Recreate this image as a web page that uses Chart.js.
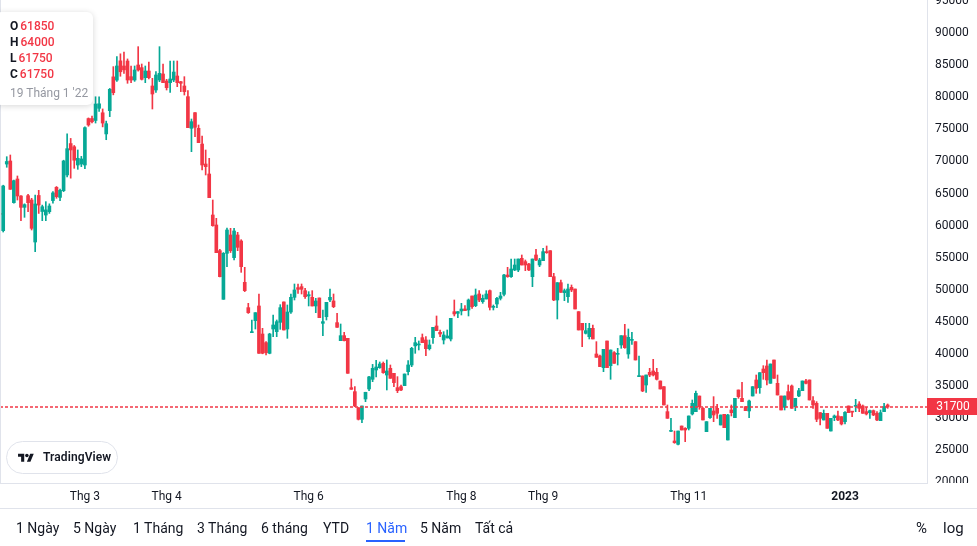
<!DOCTYPE html>
<html><head><meta charset="utf-8">
<script src="https://cdn.jsdelivr.net/npm/chart.js@4"></script>
<style>
html,body{margin:0;padding:0;background:#fff;}
body{width:977px;height:546px;position:relative;overflow:hidden;font-family:Roboto,"Trebuchet MS",sans-serif;color:#131722;}
#wrap{position:absolute;left:0;top:0;width:977px;height:509px;}
#legend{position:absolute;left:-4px;top:12px;width:97px;height:93px;background:#fff;border-radius:6px;box-shadow:0 1px 6px rgba(0,0,0,0.16);font-size:12px;}
#legend .row{position:absolute;left:14px;height:16px;line-height:16px;white-space:nowrap;}
#legend b{font-weight:700;color:#131722;margin-right:2px;}
#legend .v{color:#f23645;font-weight:500;}
#legend .d{color:#9598a1;font-weight:400;}
#logo{position:absolute;left:6px;top:441px;width:110px;height:31px;border:1px solid #e0e3eb;border-radius:17px;background:#fff;}
#logo svg{position:absolute;left:11px;top:10px;}
#logo span{position:absolute;left:36px;top:0;line-height:31px;font-size:12px;font-weight:600;color:#131722;letter-spacing:0.1px;}
#sep{position:absolute;left:0;top:508px;width:977px;height:1px;background:#e0e3eb;}
.btn{position:absolute;top:518px;line-height:20px;font-size:14px;color:#131722;white-space:nowrap;}
.btn.on{color:#2962ff;}
#ul{position:absolute;left:366px;top:540px;width:39px;height:2px;background:#2962ff;}
</style>
</head><body>
<div id="wrap"><canvas id="c"></canvas></div>
<div id="legend"></div>
<div id="logo"><svg width="16" height="12.4" viewBox="0 0 36 28"><path fill="#131722" d="M14 22H7V11H0V4h14v18zM28 22h-8l7.5-18h8L28 22z"/><circle fill="#131722" cx="20" cy="8" r="4"/></svg><span>TradingView</span></div>
<div id="sep"></div>
<div id="bar"></div>
<div id="ul"></div>
<script>
const openP = [
61850,59210,69600,70080,63580,67270,64620,62850,64670,63995,
57440,64700,62200,61650,62175,63900,65970,64400,65450,67900,
72800,72300,69450,69600,69455,76700,76700,76400,78300,77600,
74300,77930,83200,82700,85700,84900,85680,83235,82715,85055,
84640,83080,84120,81780,81155,82715,83650,82560,82300,82715,
83340,82450,81780,80115,75175,77620,75175,72730,69610,68050,
61655,60095,56090,48500,55675,58535,55000,58535,57600,51150,
47200,43300,45170,47460,43090,41740,40075,43870,43455,44910,
48090,43870,46520,48810,50320,50475,49850,49020,48810,47460,
48710,44755,45795,48395,48240,44860,42050,42830,42415,34715,
34095,31600,29780,32950,34515,36020,37475,37840,38515,36690,
37735,36955,34720,34875,35030,37215,38255,41235,41380,42520,
42155,40800,42520,44340,43350,42155,42470,42310,46575,46315,
46680,46990,46835,49020,47510,49330,48135,48550,49850,47250,
47770,48655,49280,52295,52035,53075,53075,54895,54375,54010,
52035,55415,53855,54530,55935,56090,52035,48395,51100,49540,
48915,50370,50110,46575,44755,43195,42675,43975,39970,39660,
37840,42000,38150,40180,39920,41375,42830,39970,42100,41895,
36435,36540,35135,37110,37320,37110,35760,34875,30975,27900,
26400,25880,28735,28375,28375,30610,30975,33415,31495,27855,
30040,31080,31495,28895,30560,26555,31235,30040,34355,33055,
31755,31080,33420,35915,34720,37630,38100,35395,39035,35395,
33420,31650,34095,34980,31755,33420,34250,35760,35915,32690,
32275,30820,29675,30715,27955,30040,30300,30195,29415,31860,
30975,31800,32170,31860,30975,30820,31130,30715,29570,30975,
32015];
const highP = [
64000,66300,70750,71015,67100,67740,64700,63400,64880,64255,
64775,65500,63200,63735,63400,65300,66100,65700,70200,74300,
73600,72500,71800,70800,75400,76800,77100,80100,80100,78200,
76300,81400,84800,86350,86800,87080,86000,84900,84900,87915,
85210,84900,85525,82975,84015,87915,85210,82820,85680,85680,
85680,82500,83235,81050,76630,77620,75695,73980,71795,70495,
63995,61135,56300,55800,59600,59575,59575,58950,57800,53490,
47875,45275,46420,49330,43975,41900,43200,46055,45275,47665,
48090,47615,49330,50890,50890,50890,50215,49695,49850,48655,
48710,46835,48030,50110,49330,46315,44650,43350,42415,36070,
34875,31600,31860,34000,36500,38350,38985,38725,38725,39040,
38255,36955,36435,35135,36850,38930,41010,42570,42000,43090,
42675,42155,44130,45900,43715,43455,43715,45535,48395,46575,
47875,47510,48550,49020,50110,49850,49175,49850,49955,47615,
48810,49590,52400,53490,54790,54790,54790,55415,54635,54115,
54790,56300,54895,56455,56820,56090,52555,51100,51515,50110,
50890,50735,50110,46575,44755,44755,44755,44495,41895,39815,
40700,42000,40600,40335,40855,42830,44600,43870,43350,41895,
39660,36540,36695,37735,39140,37735,35760,34875,32015,29935,
27950,27955,28735,28480,30300,32795,34200,33415,31600,29415,
31495,33315,32120,30455,30560,30560,32015,33055,34355,35550,
31755,32795,34875,36695,37060,38150,39035,38410,39035,36695,
33420,33420,35135,35135,33055,34615,35760,36020,35915,33315,
32535,30820,31235,30715,29935,30455,31080,30195,30975,31860,
30975,32900,32535,32015,31650,31235,31235,30975,31235,32275,
32170];
const lowP = [
61750,59000,69100,65660,63500,63990,60770,61290,62175,59315,
55930,61900,60770,60770,61900,63500,64260,63890,65300,67600,
67400,68935,68780,69200,68900,75500,76000,76000,77800,75400,
73400,77000,80400,82500,83300,83755,82200,82300,82500,84100,
82715,82300,82900,78190,80790,82455,82300,81155,80790,82455,
81675,80900,80375,75280,71535,73875,72940,68675,67895,64360,
59900,55780,52000,48500,53595,55800,54635,56090,52710,49700,
46300,43300,43870,40075,40000,39815,40000,42675,42675,43820,
43715,42415,46315,48395,49435,49330,48655,47460,47460,46420,
45640,42830,45275,48135,47200,44130,42050,42000,36955,34455,
31755,29675,29260,32535,34250,35655,36380,37735,36955,34355,
36175,34875,33940,34250,35030,36695,37995,40075,40595,41735,
39710,40595,41635,43610,42675,41530,42470,42000,45900,45640,
46055,46730,45900,47095,47355,48135,47875,48550,46835,46835,
47200,48395,49020,51930,51930,52970,52815,53855,52970,52970,
50475,54530,53595,54530,55675,52035,48290,45430,49590,48290,
48030,49695,46990,43715,41115,43090,42310,42310,39450,38000,
37215,37840,36020,38515,38255,40855,40855,39295,41480,39035,
36435,34095,33990,36435,36540,35915,34510,32015,29935,27855,
26035,25775,28115,26295,28115,30455,30975,31340,29675,27855,
29935,29415,29935,28895,28480,26555,30300,30040,33055,32535,
31130,30040,33420,33835,33835,36020,35135,35395,36175,33575,
31235,31235,32795,31495,31130,33315,34250,35290,32795,31495,
29415,28895,29675,28375,27955,29570,29570,28895,29050,30820,
30195,30975,30975,30715,30455,29935,30350,29570,29570,30975,
31495];
const closeP = [
61750,66180,70000,65660,67010,64620,62850,63270,63580,59575,
63370,63200,62950,62450,63060,65100,64515,65500,70080,72000,
71800,70200,70500,70400,75280,75700,76200,78970,79000,76000,
75900,81260,80740,84900,84000,84300,82715,82715,84275,84275,
82820,84120,83080,80530,83495,83755,82300,81520,82870,83960,
82300,82200,80900,75280,76215,75330,72940,69455,69195,64360,
59990,55780,52035,55675,59315,56090,59160,56610,53595,49850,
46420,43450,46420,40075,40075,40180,43090,44495,45015,47200,
43715,46520,48810,49955,50060,50060,48915,49225,47460,48240,
45640,45015,48030,48810,47355,44130,42830,42050,36955,34455,
31860,29780,31860,34000,36400,37735,37940,38410,37060,37320,
36175,35500,34250,34355,36850,38255,40855,41735,41480,41735,
40800,41375,44130,43610,43090,42935,42780,45535,46215,46575,
46990,46730,48395,47355,49175,48395,48655,49330,47250,47355,
48655,49020,52295,52035,53230,53855,54790,53855,53855,53075,
54790,54635,54635,55935,55780,52035,48395,51100,49590,49850,
50110,49955,46990,43715,43715,43610,43975,42310,39450,38000,
40700,37840,40595,38515,39970,42830,40960,42570,42155,39035,
36540,34200,36695,36695,36695,36020,34510,32015,29935,28000,
26140,27955,28115,28115,30300,32275,33835,31755,29675,29415,
31495,30455,30715,30455,28480,30455,30820,33055,33315,32535,
31130,32640,34875,34615,37060,37060,35915,38410,36175,33575,
31235,33420,32900,31495,33055,34250,35760,35395,32795,32015,
29780,29935,30715,28375,29935,30300,29675,29050,30870,30820,
30900,31860,31495,30715,30610,31130,30455,29675,30820,31755,
31700];
const firstDate = "19 Tháng 1 '22";
const tickIndex = [24, 47, 87, 130, 153, 194, 238];
const tickText = ['Thg 3', 'Thg 4', 'Thg 6', 'Thg 8', 'Thg 9', 'Thg 11', '2023'];
const priceTicks = [20000, 25000, 30000, 35000, 40000, 45000, 50000, 55000, 60000, 65000, 70000, 75000, 80000, 85000, 90000, 95000];
const rangeButtons = ['1 Ngày', '5 Ngày', '1 Tháng', '3 Tháng', '6 tháng', 'YTD', '1 Năm', '5 Năm', 'Tất cả'];
const rangeX = [16, 73, 133, 197, 261, 323, 366, 420, 475];
const scaleButtons = ['%', 'log'];
const scaleX = [916, 943];

const UP = '#06a896', DOWN = '#f23645', LINE = '#e0e3eb', TEXT = '#131722';
const colorAt = i => closeP[i] >= openP[i] ? UP : DOWN;

(function(){
  const lg = document.getElementById('legend');
  const col = closeP[0] >= openP[0] ? UP : DOWN;
  const rows = [['O', openP[0]], ['H', highP[0]], ['L', lowP[0]], ['C', closeP[0]]];
  let html = '';
  rows.forEach((r, k) => {
    html += '<div class="row" style="top:' + (6 + k * 16) + 'px"><b>' + r[0] + '</b><span class="v" style="color:' + col + '">' + r[1] + '</span></div>';
  });
  html += '<div class="row d" style="top:73px">' + firstDate + '</div>';
  lg.innerHTML = html;
  const bar = document.getElementById('bar');
  let b = '';
  rangeButtons.forEach((t, k) => { b += '<div class="btn' + (t === '1 Năm' ? ' on' : '') + '" style="left:' + rangeX[k] + 'px">' + t + '</div>'; });
  scaleButtons.forEach((t, k) => { b += '<div class="btn" style="left:' + scaleX[k] + 'px;font-size:15px">' + t + '</div>'; });
  bar.innerHTML = b;
})();

Chart.defaults.font.family = 'Roboto, sans-serif';

const idx = openP.map((_, i) => i);
const wickData = idx.map(i => ({x: i, y: [lowP[i], highP[i]]}));
const bodyData = idx.map(i => ({x: i, y: [openP[i], closeP[i]]}));

const decor = {
  id: 'decor',
  afterDatasetsDraw(chart) {
    const {ctx, chartArea: a, scales: {y}} = chart;
    const last = closeP[closeP.length - 1];
    const py = Math.round(y.getPixelForValue(last));
    ctx.save();
    ctx.strokeStyle = DOWN; ctx.lineWidth = 1.3; ctx.setLineDash([3, 2]);
    ctx.beginPath(); ctx.moveTo(a.left, py); ctx.lineTo(a.right, py); ctx.stroke();
    ctx.restore();
  },
  afterDraw(chart) {
    const {ctx, chartArea: a, scales: {y}} = chart;
    ctx.save();
    ctx.fillStyle = '#fff';
    ctx.fillRect(a.right + 1, a.bottom, chart.width - a.right, chart.height - a.bottom);
    ctx.strokeStyle = LINE; ctx.lineWidth = 1;
    ctx.beginPath(); ctx.moveTo(0.5, 0); ctx.lineTo(0.5, a.bottom); ctx.stroke();
    const last = closeP[closeP.length - 1];
    const py = Math.round(y.getPixelForValue(last));
    ctx.fillStyle = DOWN;
    ctx.fillRect(a.right, py - 9, chart.width - a.right, 17);
    ctx.fillStyle = '#fff';
    ctx.font = '12px Roboto, sans-serif';
    ctx.textAlign = 'center'; ctx.textBaseline = 'middle';
    ctx.fillText(String(last), (a.right + chart.width) / 2 + 1, py);
    ctx.restore();
  }
};

const noPad = s => { s.paddingTop = 0; s.paddingBottom = 0; s.paddingLeft = 0; s.paddingRight = 0; };

new Chart(document.getElementById('c'), {
  type: 'bar',
  data: {
    datasets: [
      {label: 'body', data: bodyData, backgroundColor: c => colorAt(c.dataIndex), barThickness: 3, minBarLength: 1, grouped: false, order: 0},
      {label: 'wick', data: wickData, backgroundColor: c => colorAt(c.dataIndex), barThickness: 1, grouped: false, order: 1}
    ]
  },
  options: {
    responsive: true, maintainAspectRatio: false, animation: false, devicePixelRatio: 1,
    layout: {padding: 0},
    plugins: {legend: {display: false}, tooltip: {enabled: false}},
    events: [],
    scales: {
      x: {
        type: 'linear', position: 'bottom', min: 0.0985, max: 261.08, offset: false,
        grid: {display: false, drawTicks: false},
        border: {display: true, color: LINE, width: 1},
        afterBuildTicks: s => { s.ticks = tickIndex.map(v => ({value: v})); },
        afterFit: s => { s.height = 26; noPad(s); },
        ticks: {
          autoSkip: false, maxRotation: 0, padding: 7, color: TEXT,
          font: c => ({size: 12, weight: (c.tick && c.tick.label === '2023') ? 'bold' : 'normal'}),
          callback: v => tickText[tickIndex.indexOf(v)]
        }
      },
      y: {
        type: 'linear', position: 'right', min: 19844, max: 95195,
        grid: {display: false, drawTicks: false},
        border: {display: true, color: LINE, width: 1},
        afterFit: s => { s.width = 50; noPad(s); },
        afterBuildTicks: s => { s.ticks = priceTicks.map(v => ({value: v})); },
        ticks: {autoSkip: false, padding: 8, color: TEXT, font: {size: 12}, crossAlign: 'near',
          callback: v => String(v)}
      }
    }
  },
  plugins: [decor]
});
</script>
</body></html>
